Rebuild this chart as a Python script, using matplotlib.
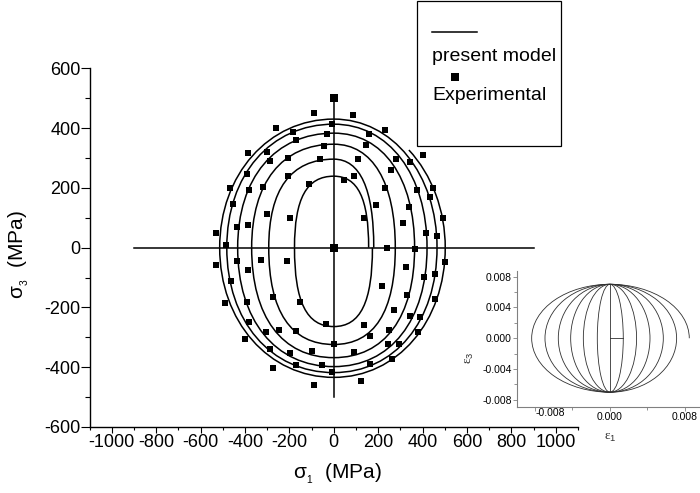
import matplotlib
matplotlib.use('Agg')
import matplotlib.pyplot as plt
from matplotlib.path import Path
from matplotlib.patches import PathPatch, Arc, Rectangle
from matplotlib.lines import Line2D
from matplotlib.ticker import MultipleLocator, FixedLocator

plt.rcParams['font.family'] = ['Liberation Sans', 'DejaVu Sans']
plt.rcParams['mathtext.fontset'] = 'custom'
plt.rcParams['mathtext.rm'] = 'Liberation Sans'
plt.rcParams['mathtext.it'] = 'Liberation Sans:italic'
plt.rcParams['axes.unicode_minus'] = False

# model curves (MPa): extent of each turn in the four quadrants, inner -> outer
tops = [239, 296, 346, 383, 413, 430]
bottoms = [-264, -324, -368, -398, -418, -434]
lefts = [-177, -293, -370, -433, -482, -514]
rights_upper = [157, 180, 277, 364, 420, 465]
rights_lower = [174, 277, 364, 420, 465, 502]
squareness = [0.69, 0.66, 0.63, 0.61, 0.59, 0.57]
# unfinished last turn in upper right: (right, top, end angle in deg)
last_right, last_top, last_angle = 502, 442, 44

# experimental points (MPa)
exp_s1 = [-87, -261, -182, -6, -30, -171, -42, -385, -302, -63, -289, -205, -389, -207,
          -111, -467, -382, -317, -455, -301, -196, -434, -388, -529, -485,
          87, 232, 157, 146, 282, 342, 400, 110, 259, 90, 45, 229, 375, 449, 435, 190,
          135, 337, 490, 312, 417, 465, 240, 367,
          502, 325, 454, 408, 217, 330, 457, 270, 342, 390, 135, -34, 165, 247, 379,
          244, 292, 0, 90, 262, 165, -52, -7, 124,
          -529, -434, -329, -213, -387, -464, -272, -150, -491, -389, -383, -304, -249,
          -168, -398, -288, -198, -99, -168, -272, -90]
exp_s3 = [452, 399, 387, 412, 381, 360, 339, 318, 319, 295, 290, 300, 245, 239,
          213, 200, 192, 204, 145, 111, 100, 68, 77, 49, 8,
          443, 395, 379, 345, 298, 287, 309, 296, 261, 239, 225, 198, 192, 200, 170, 142,
          100, 136, 99, 82, 49, 39, -1, -3,
          -48, -65, -87, -98, -129, -160, -171, -208, -230, -232, -260, -257, -296, -277, -283,
          -322, -324, -322, -350, -372, -389, -394, -417, -445,
          -57, -45, -40, -45, -76, -110, -165, -182, -184, -182, -249, -283, -277,
          -279, -307, -338, -353, -347, -394, -403, -460]
big_s1 = [0, 0]
big_s3 = [500, 0]

# reference cross
cross_h = [-900, 900]
cross_v = [-500, 500]

# inset: strain path, eps3 amplitude and eps1 half-turn amplitudes
eps3_amp = 0.007
eps_start = 0.00142
eps_left = [0.00135, 0.00284, 0.00419, 0.00551, 0.00693, 0.00835]
eps_right = [0.00142, 0.00284, 0.00427, 0.00569, 0.00711]
eps_last = 0.00846


def quadrant(ax, xe, ye, k):
    verts = [(xe, 0), (xe, k * ye), (k * xe, ye), (0, ye)]
    codes = [Path.MOVETO, Path.CURVE4, Path.CURVE4, Path.CURVE4]
    ax.add_patch(PathPatch(Path(verts, codes), fill=False, lw=1.1, edgecolor='black'))


fig = plt.figure(figsize=(7, 4.93), dpi=100)
ax = fig.add_axes([0.128, 0.1339, 0.6977, 0.7276])

for i in range(len(tops)):
    k = squareness[i]
    quadrant(ax, rights_upper[i], tops[i], k)
    quadrant(ax, lefts[i], tops[i], k)
    quadrant(ax, lefts[i], bottoms[i], k)
    quadrant(ax, rights_lower[i], bottoms[i], k)
ax.add_patch(Arc((0, 0), 2 * last_right, 2 * last_top, theta1=0, theta2=last_angle,
                 lw=1.1, color='black'))

ax.plot(cross_h, [0, 0], color='black', lw=1.1)
ax.plot([0, 0], cross_v, color='black', lw=1.1)
ax.plot(exp_s1, exp_s3, 's', color='black', ms=3.8, mew=0)
ax.plot(big_s1, big_s3, 's', color='black', ms=6, mew=0)

ax.set_xlim(-1100, 1100)
ax.set_ylim(-600, 600)
ax.xaxis.set_major_locator(FixedLocator(range(-1000, 1001, 200)))
ax.xaxis.set_minor_locator(MultipleLocator(100))
ax.yaxis.set_major_locator(MultipleLocator(200))
ax.yaxis.set_minor_locator(MultipleLocator(100))
for s in ['top', 'right']:
    ax.spines[s].set_visible(False)
for s in ['left', 'bottom']:
    ax.spines[s].set_linewidth(1.0)
ax.tick_params(axis='x', which='major', direction='out', length=4.2, width=0.8, pad=1, labelsize=13)
ax.tick_params(axis='x', which='minor', direction='out', length=2.4, width=0.8)
ax.tick_params(axis='y', which='major', direction='out', length=6.5, width=0.8, pad=0, labelsize=13)
ax.tick_params(axis='y', which='minor', direction='out', length=3.5, width=0.8)
fig.text(0.4814, 0.0385, r'$\mathregular{\sigma_{_1}}$  (MPa)', fontsize=15,
         ha='center', va='center')
fig.text(0.0271, 0.4828, r'$\mathregular{\sigma_{_3}}$  (MPa)', fontsize=15,
         ha='center', va='center', rotation=90)

# legend box
fig.add_artist(Rectangle((0.5961, 0.7039), 0.2049, 0.2941, transform=fig.transFigure,
                         fill=False, edgecolor='black', lw=0.9))
fig.add_artist(Line2D([0.6167, 0.681], [0.9345, 0.9345], transform=fig.transFigure,
                      color='black', lw=1.1))
fig.text(0.6171, 0.885, 'present model', fontsize=14, va='center', ha='left')
fig.add_artist(Line2D([0.65], [0.8438], transform=fig.transFigure, marker='s',
                      color='black', ms=5.5, mew=0, ls='none'))
fig.text(0.618, 0.8073, 'Experimental', fontsize=14, va='center', ha='left')

# inset: strain path
ai = fig.add_axes([0.7381, 0.1751, 0.294, 0.2753])
lc = '#303030'
for a in eps_left:
    ai.add_patch(Arc((0, 0), 2 * a, 2 * eps3_amp, theta1=90, theta2=270, lw=0.6, color=lc))
for a in eps_right:
    ai.add_patch(Arc((0, 0), 2 * a, 2 * eps3_amp, theta1=-90, theta2=90, lw=0.6, color=lc))
ai.add_patch(Arc((0, 0), 2 * eps_last, 2 * eps3_amp, theta1=0, theta2=90, lw=0.6, color=lc))
ai.plot([0, 0], [-eps3_amp, eps3_amp], color=lc, lw=0.6)
ai.plot([0, eps_start], [0, 0], color=lc, lw=0.6)
ai.set_xlim(-0.00995, 0.012)
ai.set_ylim(-0.00888, 0.00873)
ai.patch.set_alpha(0)
for s in ['top', 'right']:
    ai.spines[s].set_visible(False)
for s in ['left', 'bottom']:
    ai.spines[s].set_color('#808080')
    ai.spines[s].set_linewidth(0.8)
ai.xaxis.set_major_locator(FixedLocator([-0.008, 0.0, 0.008]))
ai.xaxis.set_minor_locator(FixedLocator([-0.004, 0.004]))
ai.set_xticklabels(['', '0.000', '0.008'])
ai.yaxis.set_major_locator(FixedLocator([-0.008, -0.004, 0.0, 0.004, 0.008]))
ai.yaxis.set_minor_locator(FixedLocator([-0.006, -0.002, 0.002, 0.006]))
ai.set_yticklabels(['-0.008', '-0.004', '0.000', '0.004', '0.008'])
ai.tick_params(which='both', direction='out', width=0.6, color='#808080', labelsize=7.5, pad=0.5)
ai.tick_params(which='major', length=3)
ai.tick_params(which='minor', length=2)
fig.text(0.7857, 0.1623, '-0.008', fontsize=7.5, ha='center', va='center')
fig.text(0.6714, 0.2738, '\u03b5$_{3}$', fontsize=9.5, rotation=90,
         ha='center', va='center', family='Liberation Serif', color='#303030')
fig.text(0.8714, 0.1116, '\u03b5$_{1}$', fontsize=9.5,
         ha='center', va='center', family='Liberation Serif', color='#303030')

fig.savefig('out.png', dpi=100)
